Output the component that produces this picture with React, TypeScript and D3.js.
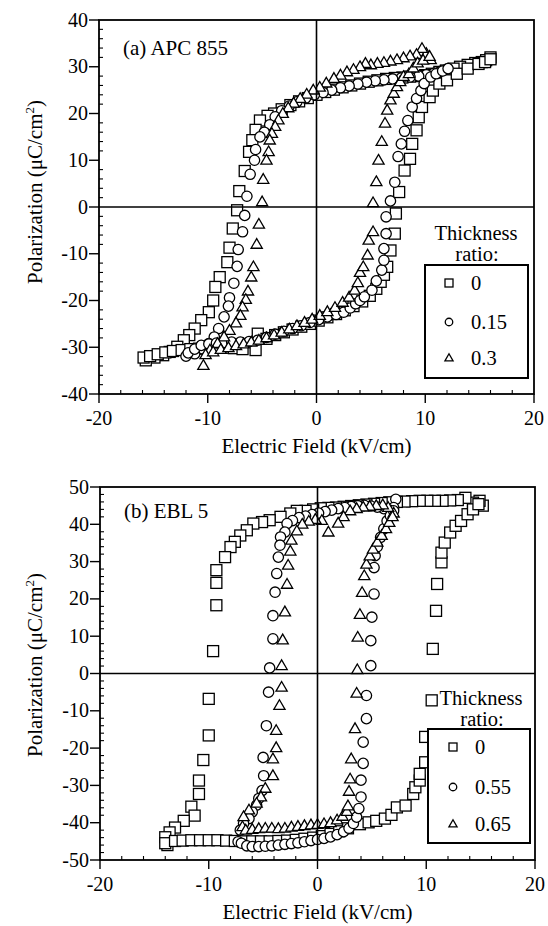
import React from "react";
import * as d3 from "d3";

// ---------- Panel (a) APC 855 ----------
const apcE0 = [16.0,15.6,15.2,14.6,13.9,13.2,12.6,11.9,11.3,10.6,10.0,9.3,8.6,7.9,7.2,6.4,5.6,4.8,4.0,3.2,2.4,1.6,0.8,0.0,-0.8,-1.6,-2.4,-3.2,-3.9,-4.5,-5.2,-5.6,-5.9,-6.2,-6.6,-7.1,-7.3,-7.7,-8.0,-8.2,-8.9,-9.3,-9.5,-9.9,-10.6,-11.2,-11.7,-12.2,-12.8,-13.5,-14.1,-14.9,-15.7,
  -15.9,-15.3,-14.6,-13.9,-13.2,-12.4,-11.6,-10.8,-10.0,-9.2,-8.4,-7.6,-6.8,-5.6,-5.4,-4.6,-3.8,-3.0,-2.2,-1.4,-0.6,0.2,1.0,1.8,2.6,3.4,4.2,4.9,5.5,5.9,6.2,6.5,6.8,7.2,7.3,7.6,8.1,8.6,8.8,9.2,9.4,9.7,10.4,10.7,11.3,12.0,12.9,13.9,14.9,15.5,16.0];
const apcP0 = [32.0,31.4,31.0,30.8,30.4,30.0,29.6,29.2,28.9,28.5,28.2,28.0,27.9,27.7,27.6,27.4,27.1,26.8,26.4,26.0,25.6,25.1,24.6,24.0,23.3,22.6,21.8,20.9,20.0,19.5,18.5,16.5,14.3,11.8,7.7,3.4,-0.7,-4.6,-8.7,-11.8,-15.0,-17.1,-20.0,-22.5,-24.2,-26.0,-27.4,-28.5,-29.9,-31.0,-31.7,-32.2,-32.8,
  -32.2,-31.9,-31.5,-31.1,-30.8,-30.6,-30.4,-30.3,-30.2,-30.1,-30.1,-30.2,-30.4,-30.6,-27.1,-28.2,-27.4,-26.8,-26.2,-25.6,-25.0,-24.3,-23.6,-22.9,-22.1,-21.2,-20.2,-19.0,-17.5,-16.0,-14.5,-12.8,-9.3,-5.7,-1.4,3.2,7.8,10.3,13.5,16.4,19.2,21.4,23.5,24.9,26.4,27.1,28.5,29.6,30.6,31.0,31.6];

const apcE15 = [12.0,11.4,10.8,10.1,9.4,8.6,7.8,7.0,6.2,5.4,4.6,3.8,3.0,2.2,1.4,0.6,-0.2,-1.0,-1.8,-2.5,-3.2,-3.8,-4.3,-4.8,-5.2,-5.6,-5.7,-6.1,-6.4,-6.6,-6.8,-7.2,-7.3,-7.6,-8.0,-8.1,-8.5,-9.0,-9.4,-9.9,-10.6,-11.2,-12.0,
  -11.8,-11.2,-10.6,-9.9,-9.2,-8.5,-7.8,-7.0,-6.2,-5.4,-4.6,-3.8,-3.0,-2.2,-1.4,-0.6,0.2,1.0,1.8,2.5,3.1,3.6,4.0,4.4,5.1,5.5,6.0,6.2,6.2,6.4,6.4,6.8,7.2,7.5,7.8,8.1,8.4,8.8,9.2,9.6,9.9,10.5,11.0,11.6,12.1];
const apcP15 = [29.5,29.0,28.6,28.3,28.0,27.8,27.6,27.4,27.2,27.0,26.7,26.3,25.9,25.5,25.0,24.5,24.0,23.3,22.5,21.6,20.6,19.3,17.6,16.0,15.0,12.3,10.0,7.0,2.3,-1.8,-5.3,-9.1,-12.7,-16.3,-19.4,-21.2,-23.5,-26.0,-27.8,-29.2,-30.3,-31.4,-31.9,
  -31.2,-30.4,-29.6,-29.3,-29.1,-29.0,-28.9,-28.9,-28.8,-28.5,-27.9,-27.2,-26.6,-26.0,-25.4,-24.7,-24.1,-23.5,-23.0,-22.5,-21.6,-20.7,-20.0,-19.2,-17.8,-15.8,-13.5,-11.4,-8.9,-5.7,-2.1,1.3,5.3,10.8,13.5,16.2,18.5,21.4,23.2,24.9,26.4,27.8,28.5,29.1,29.6];

const apcE30 = [10.5,10.1,9.7,9.2,8.6,8.0,7.4,6.8,6.2,5.6,5.0,4.5,4.0,3.4,2.8,2.2,1.6,0.9,0.3,-0.3,-0.9,-1.5,-2.1,-2.6,-3.1,-3.5,-3.8,-4.1,-4.3,-4.4,-4.6,-4.9,-5.0,-5.3,-5.5,-5.8,-6.0,-6.3,-6.5,-6.8,-7.0,-7.4,-8.0,-8.5,-9.1,-9.8,-10.4,
  -10.2,-9.5,-8.8,-8.1,-7.4,-6.7,-6.0,-5.3,-4.6,-3.9,-3.2,-2.5,-1.8,-1.1,-0.4,0.3,1.0,1.7,2.4,3.0,3.5,3.8,4.0,4.3,4.7,4.8,5.2,5.2,5.5,5.7,6.0,6.3,6.5,6.8,7.1,7.4,7.7,8.0,8.5,8.9,9.3,9.8,10.4];
const apcP30 = [31.5,32.8,33.9,32.6,32.3,31.9,31.5,31.2,30.9,30.7,30.4,30.7,30.0,29.4,28.9,28.2,27.5,26.5,25.6,25.0,24.1,23.2,22.2,21.2,20.0,18.6,17.2,15.7,14.3,11.8,10.0,5.9,1.1,-3.7,-8.0,-12.8,-15.0,-18.0,-19.8,-21.4,-23.2,-24.8,-26.4,-27.8,-29.2,-30.6,-33.9,
  -31.6,-31.0,-30.5,-30.1,-29.7,-29.3,-28.9,-28.5,-28.0,-27.4,-26.8,-26.1,-25.4,-24.7,-24.0,-23.2,-22.4,-21.5,-20.4,-19.3,-17.8,-16.2,-14.0,-12.8,-10.3,-7.1,-5.3,0.9,5.4,10.0,14.0,17.9,20.7,22.9,24.3,25.7,26.8,27.9,28.5,29.7,30.8,31.4,32.2];

// ---------- Panel (b) EBL 5 ----------
const eblE0 = [15.2,14.9,14.3,13.6,12.9,12.2,11.5,10.8,10.1,9.4,8.7,8.0,7.3,6.6,5.9,5.2,4.5,3.8,3.1,2.4,1.7,1.0,0.3,-0.4,-1.1,-1.9,-2.5,-3.4,-4.4,-5.1,-5.9,-6.5,-7.1,-7.6,-8.0,-8.5,-9.3,-9.3,-9.3,-9.6,-10.0,-10.0,-10.5,-10.9,-10.9,-11.6,-11.3,-12.3,-13.1,-13.6,-14.0,-13.8,
  -14.0,-13.1,-12.4,-11.6,-10.8,-10.0,-9.2,-8.4,-7.6,-6.8,-6.0,-5.2,-4.4,-3.6,-2.8,-2.0,-1.2,-0.4,0.4,1.2,2.0,2.8,3.9,4.7,5.4,6.2,6.8,7.3,8.1,8.8,9.0,9.4,9.4,9.9,9.9,10.5,10.6,10.9,11.0,11.4,11.4,11.7,12.2,12.7,13.2,13.8,14.3,14.8];
const eblP0 = [45.0,46.3,45.8,47.1,46.5,46.4,46.3,46.3,46.3,46.3,46.2,46.1,46.0,45.9,45.7,45.5,45.3,45.1,44.9,44.7,44.5,44.4,44.3,44.0,43.6,43.6,42.9,42.0,41.1,40.6,40.2,38.4,37.0,35.3,33.9,31.2,27.7,24.3,18.3,6.0,-6.8,-16.6,-23.2,-28.7,-32.3,-35.7,-38.1,-39.5,-41.3,-42.6,-43.9,-46.0,
  -45.5,-44.9,-44.8,-44.7,-44.7,-44.7,-44.7,-44.8,-44.9,-45.0,-45.0,-45.0,-45.0,-44.9,-44.8,-44.6,-44.3,-44.0,-43.6,-43.0,-42.3,-41.5,-40.4,-39.9,-39.5,-38.9,-37.9,-35.9,-35.4,-32.3,-30.5,-28.7,-26.9,-23.8,-17.0,-7.2,6.6,16.8,24.0,29.8,32.4,35.1,37.8,39.6,40.9,42.7,44.0,45.4];

const eblE55 = [7.2,7.0,6.6,6.1,5.5,4.9,4.3,3.7,3.1,2.5,1.9,1.3,0.7,0.1,-0.5,-1.1,-1.7,-2.3,-2.8,-3.0,-3.4,-3.45,-3.6,-3.75,-3.9,-4.1,-4.1,-4.4,-4.5,-4.7,-5.0,-4.95,-5.1,-5.4,-5.6,-6.0,-6.3,-6.8,-7.1,-7.3,
  -7.0,-6.5,-6.0,-5.4,-4.8,-4.2,-3.6,-3.0,-2.4,-1.8,-1.2,-0.6,0.0,0.6,1.2,1.8,2.4,2.9,3.3,3.6,3.8,4.0,4.0,4.2,4.2,4.5,4.5,4.9,4.9,5.0,5.2,5.2,5.3,5.5,5.8,6.1,6.4,6.7,7.0];
const eblP55 = [46.7,44.5,43.8,44.2,44.6,44.9,45.1,45.0,44.8,44.5,44.2,43.8,43.4,43.0,42.6,42.2,41.8,41.0,40.2,37.9,36.6,34.4,31.2,26.8,21.8,15.5,9.3,1.5,-5.0,-14.0,-22.5,-27.4,-31.4,-33.5,-35.3,-37.1,-38.9,-40.2,-42.0,-45.1,
  -45.5,-46.2,-46.4,-46.4,-46.3,-46.2,-46.0,-45.8,-45.6,-45.4,-45.1,-44.8,-44.5,-44.2,-43.8,-43.2,-42.4,-41.5,-40.2,-38.5,-36.2,-33.1,-28.6,-24.1,-18.4,-12.1,-5.9,2.1,8.8,15.1,21.3,28.4,31.6,34.0,36.5,38.8,40.9,42.3,43.6];

const eblE65 = [7.0,6.5,6.0,5.4,4.8,4.2,3.6,3.0,2.4,1.9,1.0,0.4,-0.2,-0.8,-1.4,-1.9,-2.4,-2.5,-2.7,-2.8,-3.0,-3.2,-3.3,-3.3,-3.5,-3.8,-3.8,-4.1,-4.1,-4.8,-5.2,-5.6,-6.3,-6.8,-6.9,
  -6.6,-6.0,-5.4,-4.8,-4.2,-3.6,-3.0,-2.4,-1.8,-1.2,-0.6,0.0,0.6,1.2,1.8,2.3,2.7,2.8,2.9,3.0,3.1,3.45,3.6,3.66,3.7,3.9,4.1,4.3,4.5,4.8,5.1,5.5,5.9,6.3,6.6,6.9];
const eblP65 = [43.0,44.5,45.2,45.0,44.8,44.6,44.2,43.6,42.0,40.3,37.9,41.0,41.3,40.8,40.0,38.2,35.7,32.8,29.0,23.9,16.5,9.0,2.1,-3.7,-8.6,-15.3,-19.9,-22.9,-27.4,-30.8,-33.1,-34.8,-36.6,-38.4,-41.1,
  -42.0,-41.8,-41.6,-41.5,-41.5,-41.6,-41.5,-41.2,-41.0,-40.8,-40.6,-40.5,-40.3,-40.0,-39.3,-38.3,-37.0,-35.5,-31.6,-28.3,-22.9,-14.8,-5.3,1.0,9.7,15.8,21.7,26.2,29.3,31.5,33.3,35.2,37.0,38.8,40.5,42.0];

const xTicks = [-20, -10, 0, 10, 20];
const apcYTicks = [-40, -30, -20, -10, 0, 10, 20, 30, 40];
const eblYTicks = [-50, -40, -30, -20, -10, 0, 10, 20, 30, 40, 50];
const apcLegend = ["0", "0.15", "0.3"];
const eblLegend = ["0", "0.55", "0.65"];
const shapes = ["square", "circle", "triangle"];

const FONT = "Liberation Serif, Times New Roman, DejaVu Serif, serif";

function Marker({ shape, x, y, s }: { shape: string; x: number; y: number; s: number }) {
  const common = { fill: "#fff", stroke: "#000", strokeWidth: 1.3 };
  if (shape === "square") return <rect x={x - s / 2} y={y - s / 2} width={s} height={s} {...common} />;
  if (shape === "circle") return <circle cx={x} cy={y} r={s * 0.47} {...common} />;
  const h = s * 0.88;
  const w = s * 1.02;
  return <path d={`M${x},${y - h * 0.6}L${x + w / 2},${y + h * 0.4}L${x - w / 2},${y + h * 0.4}Z`} {...common} />;
}

type Series = { E: number[]; P: number[] };

function Panel(props: {
  left: number; right: number; top: number; bottom: number;
  yTicks: number[]; yMax: number; title: string; titleY: number;
  series: Series[]; legendLabels: string[];
  legendBox: [number, number, number, number];
  legendTextCenter: number; legendTitleY: number;
  legendRows: number[]; legendMarkerX: number;
  yLabelCenter: number;
}) {
  const { left, right, top, bottom, yTicks, yMax } = props;
  const x = d3.scaleLinear().domain([-20, 20]).range([left, right]);
  const y = d3.scaleLinear().domain([-yMax, yMax]).range([bottom, top]);
  const xMinor = d3.range(-20, 20.01, 2).filter((v) => v % 10 !== 0);
  const yMinor = d3.range(-yMax, yMax + 0.01, 2).filter((v) => v % 10 !== 0);
  const [bx0, by0, bx1, by1] = props.legendBox;
  const ts = { fontFamily: FONT };
  return (
    <g style={ts} fill="#000">
      {props.series.map((s, si) => (
        <g key={si}>
          {s.E.map((e, i) => (
            <Marker key={i} shape={shapes[si]} x={x(e)} y={y(s.P[i])} s={11} />
          ))}
        </g>
      ))}
      <line x1={x(0)} x2={x(0)} y1={top} y2={bottom} stroke="#000" strokeWidth={1.6} />
      <line x1={left} x2={right} y1={y(0)} y2={y(0)} stroke="#000" strokeWidth={1.6} />
      <rect x={left} y={top} width={right - left} height={bottom - top} fill="none" stroke="#000" strokeWidth={1.8} />
      {xTicks.map((v) => (
        <g key={"xt" + v}>
          <line x1={x(v)} x2={x(v)} y1={bottom} y2={bottom + 9} stroke="#000" strokeWidth={1.4} />
          <text x={x(v)} y={bottom + 31} textAnchor="middle" fontSize={20} style={ts}>{v}</text>
        </g>
      ))}
      {xMinor.map((v) => (
        <line key={"xm" + v} x1={x(v)} x2={x(v)} y1={bottom} y2={bottom - 4} stroke="#000" strokeWidth={1.1} />
      ))}
      {yTicks.map((v) => (
        <g key={"yt" + v}>
          <line x1={left - 10} x2={left} y1={y(v)} y2={y(v)} stroke="#000" strokeWidth={1.4} />
          <text x={left - 11} y={y(v) + 6.5} textAnchor="end" fontSize={20} style={ts}>{v}</text>
        </g>
      ))}
      {yMinor.map((v) => (
        <line key={"ym" + v} x1={left} x2={left + 4} y1={y(v)} y2={y(v)} stroke="#000" strokeWidth={1.1} />
      ))}
      <text x={(left + right) / 2} y={bottom + 59} textAnchor="middle" fontSize={21} style={ts}>Electric Field (kV/cm)</text>
      <text transform={`translate(42,${props.yLabelCenter}) rotate(-90)`} textAnchor="middle" fontSize={21} style={ts}>
        Polarization (μC/cm<tspan fontSize={13} dy={-8}>2</tspan><tspan dy={8}>)</tspan>
      </text>
      <text x={left + 24} y={props.titleY} fontSize={21} style={ts}>{props.title}</text>
      <text x={props.legendTextCenter} y={props.legendTitleY} textAnchor="middle" fontSize={20.5} style={ts}>Thickness</text>
      <text x={props.legendTextCenter + 1} y={props.legendTitleY + 21} textAnchor="middle" fontSize={20.5} style={ts}>ratio:</text>
      <rect x={bx0} y={by0} width={bx1 - bx0} height={by1 - by0} fill="#fff" stroke="#000" strokeWidth={2} />
      {props.legendLabels.map((lab, i) => (
        <g key={"lg" + i}>
          <Marker shape={shapes[i]} x={props.legendMarkerX} y={props.legendRows[i]} s={8} />
          <text x={props.legendMarkerX + 22} y={props.legendRows[i] + 6.5} fontSize={20.5} style={ts}>{lab}</text>
        </g>
      ))}
    </g>
  );
}

export default function App() {
  return (
    <svg width={548} height={926} style={{ position: "absolute", left: 0, top: 0, background: "#fff" }}>
      <rect x={0} y={0} width={548} height={926} fill="#fff" />
      <Panel
        left={99} right={534} top={20} bottom={394}
        yTicks={apcYTicks} yMax={40} title="(a) APC 855" titleY={55}
        series={[{ E: apcE0, P: apcP0 }, { E: apcE15, P: apcP15 }, { E: apcE30, P: apcP30 }]}
        legendLabels={apcLegend}
        legendBox={[425, 265, 528, 378]}
        legendTextCenter={476} legendTitleY={240}
        legendRows={[283, 322, 358]} legendMarkerX={449}
        yLabelCenter={192}
      />
      <Panel
        left={100} right={535} top={487} bottom={860}
        yTicks={eblYTicks} yMax={50} title="(b) EBL 5" titleY={518}
        series={[{ E: eblE0, P: eblP0 }, { E: eblE55, P: eblP55 }, { E: eblE65, P: eblP65 }]}
        legendLabels={eblLegend}
        legendBox={[428, 729, 530, 843]}
        legendTextCenter={481} legendTitleY={705}
        legendRows={[747, 787, 824]} legendMarkerX={453}
        yLabelCenter={665}
      />
    </svg>
  );
}
